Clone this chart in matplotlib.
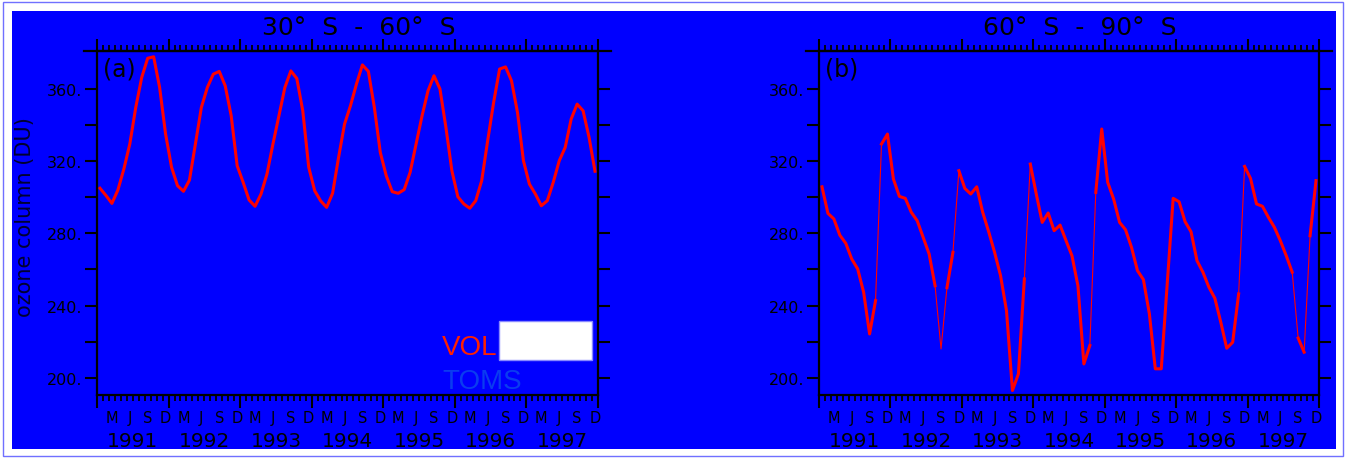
"""
Ozone column time series, 1991-1997, two southern latitude bands.
"""
import numpy as np
import matplotlib
matplotlib.use('Agg')
import matplotlib.pyplot as plt
from matplotlib.patches import Rectangle
from matplotlib.lines import Line2D

# --- data -----------------------------------------------------------------
years = [1991, 1992, 1993, 1994, 1995, 1996, 1997]
month_letters = ['M', 'J', 'S', 'D']
month_letter_idx = [2, 5, 8, 11]          # Mar, Jun, Sep, Dec
y_major = [200, 240, 280, 320, 360]
y_minor = [220, 260, 300, 340]

# 30S - 60S, monthly VOL ozone column (DU), Jan 1991 .. Dec 1997
vol_mid = [
    305.0, 301.0, 296.6, 304.0, 315.6, 329.5, 349.8, 366.4, 377.0, 377.8, 360.8, 335.0,
    316.6, 306.4, 303.3, 309.5, 329.5, 349.8, 360.8, 368.2, 369.7, 361.7, 345.1, 317.5,
    308.3, 298.5, 295.0, 301.8, 312.9, 329.5, 345.1, 360.8, 370.0, 365.8, 347.9, 316.6,
    303.6, 298.0, 294.4, 302.2, 322.0, 340.5, 350.7, 362.7, 373.3, 369.7, 349.8, 324.8,
    311.9, 303.1, 302.2, 304.2, 313.8, 329.5, 345.1, 359.0, 367.3, 360.0, 338.7, 314.7,
    300.3, 296.3, 293.9, 298.1, 309.2, 331.3, 352.5, 371.0, 372.2, 364.5, 347.0, 320.2,
    307.3, 301.8, 295.3, 298.1, 308.3, 320.2, 327.6, 343.3, 351.6, 347.9, 333.2, 314.4,
]

# 60S - 90S
vol_polar = [
    305.8, 291.1, 288.0, 279.0, 274.5, 265.8, 260.3, 247.4, 224.3, 242.8, 329.5, 335.0,
    310.1, 300.5, 299.4, 291.7, 287.0, 277.8, 268.6, 251.0, 216.0, 250.0, 269.5, 314.7,
    304.9, 301.8, 305.8, 291.7, 281.0, 269.5, 256.6, 237.2, 193.0, 202.2, 254.8, 318.4,
    301.8, 286.1, 291.3, 281.5, 284.6, 276.0, 267.6, 251.0, 207.7, 217.9, 302.7, 337.8,
    308.3, 299.0, 286.1, 282.0, 272.3, 259.4, 254.4, 235.5, 205.0, 205.0, 252.0, 299.4,
    297.5, 286.5, 280.9, 264.9, 258.5, 250.2, 244.1, 230.8, 216.4, 219.7, 246.5, 317.1,
    310.4, 296.3, 295.0, 288.9, 283.4, 276.0, 267.6, 258.5, 222.0, 214.2, 278.7, 309.2,
]
# segments (k -> k+1) of the polar curve that are drawn only as a thin line
thin_polar = [9, 19, 20, 22, 34, 45, 70, 79, 81]

BLUE = '#0000ff'
RED = '#ff0000'
W, H = 1346, 460


def thick_runs(n, thin):
    """Index ranges of consecutive thick segments."""
    runs, start = [], 0
    for k in range(n - 1):
        if k in thin:
            if k > start:
                runs.append((start, k))
            start = k + 1
    if start < n - 1:
        runs.append((start, n - 1))
    return runs


def style_axes(ax, title, tag):
    n_months = 12 * len(years)
    ax.set_facecolor(BLUE)
    ax.set_xlim(0, n_months)
    ax.set_ylim(190.5, 381)
    for s in ax.spines.values():
        s.set_linewidth(1.6)
        s.set_color('black')

    ax.set_xticks(np.arange(0, n_months + 1, 12))
    ax.set_xticks(np.arange(0, n_months + 1, 1), minor=True)
    ax.set_yticks(y_major)
    ax.set_yticklabels([f"{v}." for v in y_major])
    ax.set_yticks(y_minor, minor=True)

    ax.tick_params(axis='x', which='major', direction='out', length=9, width=1.5,
                   top=True, bottom=True, labelbottom=False)
    ax.tick_params(axis='x', which='minor', direction='out', length=4.5, width=1.3,
                   top=True, bottom=True)
    ax.tick_params(axis='y', which='both', direction='out', length=8.5, width=1.5,
                   left=True, right=True, labelsize=11.5, pad=2, labelcolor='black')

    # top axis line runs a little past the frame
    ax.add_line(Line2D([-0.026, 1.026], [1, 1], transform=ax.transAxes,
                       color='black', lw=1.6, clip_on=False))

    trans = ax.get_xaxis_transform()
    for yi in range(len(years)):
        for lab, m in zip(month_letters, month_letter_idx):
            ax.text(12 * yi + m + 0.5, -0.066, lab, transform=trans,
                    ha='center', va='center', fontsize=10.5)
        ax.text(12 * yi + 6, -0.133, str(years[yi]), transform=trans,
                ha='center', va='center', fontsize=14.5)

    ax.text(0.522, 1.07, title, transform=ax.transAxes, ha='center',
            va='center', fontsize=18)
    ax.text(0.012, 0.985, tag, transform=ax.transAxes, ha='left', va='top',
            fontsize=17)


fig = plt.figure(figsize=(W / 100, H / 100), dpi=100, facecolor='white')
fig.patches.append(Rectangle((3 / W, 3 / H), 1 - 6 / W, 1 - 6 / H,
                             transform=fig.transFigure, facecolor='none',
                             edgecolor='#7070ff', lw=1, zorder=-10))
fig.patches.append(Rectangle((12 / W, 10 / H), 1324 / W, 438 / H,
                             transform=fig.transFigure, facecolor=BLUE,
                             edgecolor='none', zorder=-10))

ax_a = fig.add_axes([97 / W, 1 - 396 / H, 501 / W, 344 / H])
ax_b = fig.add_axes([819 / W, 1 - 396 / H, 500 / W, 344 / H])

months = np.arange(len(vol_mid)) + 0.5

style_axes(ax_a, "30°  S  -  60°  S", "(a)")
ax_a.plot(months, vol_mid, color=RED, lw=2.2)

style_axes(ax_b, "60°  S  -  90°  S", "(b)")
vp = np.array(vol_polar)
ax_b.plot(months, vp, color=RED, lw=0.8)
for a, b in thick_runs(len(vp), thin_polar):
    ax_b.plot(months[a:b + 1], vp[a:b + 1], color=RED, lw=2.2)

# legend
ax_a.text(0.689, 0.119, "VOL", transform=ax_a.transAxes, color='#ff2000',
          fontsize=20, family='Liberation Sans', va='baseline')
ax_a.text(0.689, 0.020, "TOMS", transform=ax_a.transAxes, color='#0a3cf0',
          fontsize=20, family='Liberation Sans', va='baseline')
ax_a.add_patch(Rectangle((0.802, 0.102), 0.186, 0.113, transform=ax_a.transAxes,
                         facecolor='white', edgecolor='#8888ff', lw=1, zorder=5))

fig.text(25 / W, 1 - 217 / H, "ozone column (DU)", rotation=90, ha='center',
         va='center', fontsize=15, color='#000030')

fig.savefig('out.png', dpi=100, facecolor=fig.get_facecolor())
